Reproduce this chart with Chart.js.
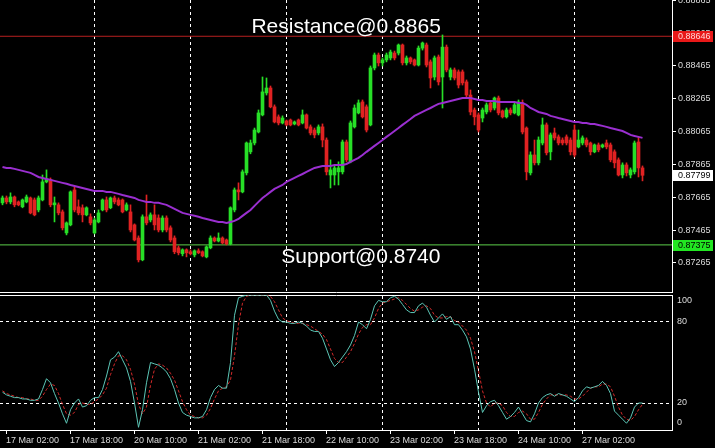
<!DOCTYPE html>
<html>
<head>
<meta charset="utf-8">
<script src="https://cdn.jsdelivr.net/npm/chart.js@4.4.0/dist/chart.umd.min.js"></script>
<style>
  html, body { margin: 0; padding: 0; background: #000; }
  canvas { display: block; }
</style>
</head>
<body>
<canvas id="chart_price" width="715" height="293"></canvas>
<canvas id="chart_stoch" width="715" height="155"></canvas>
<script>
/* ---------------- data (hourly bars, 17 Mar 02:00 -> 27 Mar 18:00) ---------------- */

const timeLabels = ["17 Mar 02:00", "17 Mar 18:00", "20 Mar 10:00", "21 Mar 02:00", "21 Mar 18:00",
  "22 Mar 10:00", "23 Mar 02:00", "23 Mar 18:00", "24 Mar 10:00", "27 Mar 02:00"];

const priceTicks = [0.87265, 0.87465, 0.87665, 0.87865, 0.88065, 0.88265, 0.88465, 0.88665, 0.88865];
const stochTicks = [0, 20, 80, 100];

const open = [
  0.87631,0.87661,0.87637,0.87667,0.87637,0.87607,0.87637,0.87661,0.87649,0.87588,
  0.87649,0.87759,0.87771,0.87619,0.87619,0.87576,0.87448,0.87497,0.87710,0.87607,
  0.87601,0.87558,0.87546,0.87448,0.87515,0.87588,0.87649,0.87601,0.87661,0.87649,
  0.87649,0.87588,0.87576,0.87497,0.87417,0.87284,0.87546,0.87527,0.87558,0.87539,
  0.87466,0.87539,0.87479,0.87417,0.87357,0.87321,0.87345,0.87333,0.87314,0.87339,
  0.87333,0.87302,0.87357,0.87417,0.87399,0.87417,0.87405,0.87381,0.87588,0.87710,
  0.87698,0.87814,0.87942,0.87996,0.88063,0.88167,0.88301,0.88331,0.88216,0.88155,
  0.88118,0.88130,0.88136,0.88112,0.88136,0.88118,0.88167,0.88094,0.88075,0.88057,
  0.88094,0.88014,0.87801,0.87801,0.87820,0.87820,0.88002,0.87881,0.88094,0.88179,
  0.88246,0.88216,0.88106,0.88453,0.88532,0.88484,0.88502,0.88514,0.88544,0.88544,
  0.88593,0.88484,0.88514,0.88502,0.88471,0.88574,0.88593,0.88490,0.88398,0.88520,
  0.88398,0.88580,0.88398,0.88441,0.88429,0.88429,0.88368,0.88288,0.88197,0.88167,
  0.88148,0.88185,0.88240,0.88209,0.88270,0.88191,0.88155,0.88197,0.88179,0.88167,
  0.88240,0.88087,0.87814,0.87923,0.87875,0.87996,0.88106,0.87942,0.88057,0.88033,
  0.88014,0.88033,0.88014,0.88075,0.87972,0.87996,0.88014,0.87996,0.87942,0.87984,
  0.87972,0.87996,0.87984,0.87942,0.87893,0.87801,0.87862,0.87801,0.87820,0.88002,
  0.87844
];
const high = [
  0.87673,0.87673,0.87692,0.87673,0.87643,0.87655,0.87679,0.87667,0.87661,0.87673,
  0.87801,0.87832,0.87783,0.87667,0.87631,0.87588,0.87515,0.87704,0.87728,0.87649,
  0.87619,0.87607,0.87564,0.87539,0.87588,0.87655,0.87667,0.87667,0.87673,0.87661,
  0.87655,0.87631,0.87619,0.87503,0.87430,0.87558,0.87679,0.87570,0.87619,0.87558,
  0.87552,0.87552,0.87491,0.87430,0.87369,0.87351,0.87351,0.87345,0.87345,0.87351,
  0.87339,0.87369,0.87430,0.87424,0.87448,0.87424,0.87411,0.87607,0.87722,0.87753,
  0.87832,0.88002,0.88014,0.88087,0.88197,0.88398,0.88392,0.88343,0.88228,0.88167,
  0.88161,0.88136,0.88142,0.88130,0.88142,0.88197,0.88173,0.88106,0.88087,0.88106,
  0.88112,0.88027,0.87893,0.87862,0.87881,0.88014,0.88014,0.88130,0.88228,0.88258,
  0.88258,0.88228,0.88465,0.88544,0.88544,0.88514,0.88544,0.88562,0.88556,0.88599,
  0.88599,0.88526,0.88520,0.88508,0.88587,0.88611,0.88605,0.88502,0.88526,0.88532,
  0.88654,0.88593,0.88453,0.88453,0.88441,0.88441,0.88380,0.88319,0.88209,0.88179,
  0.88209,0.88240,0.88252,0.88276,0.88282,0.88197,0.88209,0.88209,0.88240,0.88258,
  0.88258,0.88094,0.87942,0.88014,0.88033,0.88148,0.88118,0.88057,0.88087,0.88045,
  0.88027,0.88045,0.88027,0.88106,0.88075,0.88039,0.88027,0.88002,0.87990,0.87996,
  0.87990,0.88014,0.87996,0.87954,0.87905,0.87875,0.87875,0.87844,0.88008,0.88033,
  0.87856
];
const low = [
  0.87619,0.87625,0.87625,0.87607,0.87613,0.87601,0.87631,0.87564,0.87552,0.87576,
  0.87643,0.87753,0.87607,0.87515,0.87558,0.87466,0.87436,0.87491,0.87576,0.87558,
  0.87515,0.87552,0.87497,0.87442,0.87509,0.87582,0.87576,0.87595,0.87625,0.87613,
  0.87570,0.87582,0.87454,0.87399,0.87271,0.87278,0.87497,0.87515,0.87466,0.87454,
  0.87454,0.87454,0.87393,0.87321,0.87314,0.87308,0.87302,0.87314,0.87302,0.87321,
  0.87302,0.87296,0.87351,0.87393,0.87393,0.87381,0.87375,0.87375,0.87576,0.87649,
  0.87692,0.87801,0.87930,0.87984,0.88057,0.88161,0.88288,0.88210,0.88118,0.88106,
  0.88112,0.88100,0.88100,0.88106,0.88100,0.88112,0.88081,0.88045,0.88027,0.88045,
  0.87972,0.87801,0.87722,0.87740,0.87740,0.87807,0.87881,0.87875,0.88087,0.88173,
  0.88148,0.88063,0.88100,0.88441,0.88465,0.88465,0.88490,0.88502,0.88502,0.88532,
  0.88471,0.88471,0.88478,0.88465,0.88465,0.88562,0.88459,0.88331,0.88380,0.88349,
  0.88209,0.88429,0.88380,0.88380,0.88331,0.88349,0.88270,0.88167,0.88106,0.88063,
  0.88124,0.88173,0.88185,0.88197,0.88167,0.88148,0.88148,0.88167,0.88173,0.88161,
  0.88051,0.87771,0.87801,0.87862,0.87862,0.87984,0.87923,0.87893,0.88014,0.87984,
  0.87984,0.87984,0.87923,0.87911,0.87966,0.87984,0.87972,0.87923,0.87936,0.87942,
  0.87966,0.87960,0.87881,0.87844,0.87795,0.87783,0.87795,0.87783,0.87807,0.87789,
  0.87765
];
const close = [
  0.87661,0.87637,0.87667,0.87619,0.87619,0.87649,0.87667,0.87570,0.87558,0.87661,
  0.87759,0.87777,0.87619,0.87631,0.87570,0.87479,0.87509,0.87698,0.87588,0.87570,
  0.87558,0.87601,0.87509,0.87527,0.87570,0.87649,0.87588,0.87661,0.87637,0.87619,
  0.87576,0.87619,0.87466,0.87405,0.87284,0.87546,0.87509,0.87558,0.87497,0.87466,
  0.87539,0.87466,0.87405,0.87333,0.87327,0.87345,0.87327,0.87321,0.87339,0.87327,
  0.87308,0.87363,0.87417,0.87399,0.87417,0.87387,0.87381,0.87601,0.87710,0.87698,
  0.87820,0.87996,0.87996,0.88075,0.88179,0.88307,0.88331,0.88216,0.88124,0.88118,
  0.88148,0.88106,0.88106,0.88124,0.88106,0.88167,0.88087,0.88057,0.88045,0.88094,
  0.88014,0.87820,0.87832,0.87844,0.87844,0.88002,0.87893,0.88118,0.88209,0.88240,
  0.88155,0.88075,0.88453,0.88532,0.88484,0.88502,0.88532,0.88550,0.88514,0.88593,
  0.88484,0.88514,0.88490,0.88471,0.88574,0.88605,0.88471,0.88392,0.88514,0.88368,
  0.88580,0.88441,0.88441,0.88392,0.88349,0.88362,0.88288,0.88185,0.88155,0.88075,
  0.88197,0.88228,0.88197,0.88270,0.88179,0.88155,0.88197,0.88179,0.88228,0.88246,
  0.88063,0.87820,0.87923,0.87875,0.88014,0.88106,0.87936,0.88045,0.88027,0.87996,
  0.87996,0.87996,0.87942,0.87923,0.88014,0.88027,0.87984,0.87942,0.87984,0.87954,
  0.87984,0.87972,0.87893,0.87875,0.87801,0.87862,0.87814,0.87832,0.87996,0.87844,
  0.87799
];

// moving average (purple line)
const ma = [
  0.87850,0.87844,0.87844,0.87838,0.87832,0.87826,0.87820,0.87814,0.87801,0.87789,
  0.87783,0.87777,0.87771,0.87765,0.87759,0.87753,0.87747,0.87740,0.87734,0.87728,
  0.87722,0.87716,0.87710,0.87704,0.87704,0.87704,0.87698,0.87698,0.87692,0.87686,
  0.87679,0.87673,0.87667,0.87661,0.87649,0.87643,0.87637,0.87637,0.87631,0.87631,
  0.87625,0.87619,0.87607,0.87595,0.87582,0.87570,0.87564,0.87558,0.87552,0.87546,
  0.87539,0.87533,0.87527,0.87521,0.87515,0.87515,0.87509,0.87515,0.87521,0.87533,
  0.87552,0.87570,0.87588,0.87613,0.87637,0.87661,0.87679,0.87698,0.87716,0.87728,
  0.87740,0.87759,0.87771,0.87783,0.87795,0.87807,0.87820,0.87832,0.87844,0.87850,
  0.87856,0.87856,0.87856,0.87862,0.87862,0.87862,0.87868,0.87881,0.87893,0.87905,
  0.87923,0.87942,0.87960,0.87978,0.87996,0.88014,0.88033,0.88051,0.88069,0.88087,
  0.88106,0.88124,0.88142,0.88161,0.88173,0.88185,0.88197,0.88209,0.88222,0.88234,
  0.88240,0.88246,0.88252,0.88258,0.88264,0.88270,0.88270,0.88270,0.88264,0.88258,
  0.88258,0.88252,0.88252,0.88252,0.88246,0.88246,0.88246,0.88246,0.88246,0.88240,
  0.88240,0.88228,0.88209,0.88197,0.88185,0.88179,0.88173,0.88161,0.88155,0.88148,
  0.88142,0.88136,0.88130,0.88124,0.88124,0.88118,0.88118,0.88112,0.88112,0.88106,
  0.88100,0.88094,0.88087,0.88081,0.88075,0.88069,0.88057,0.88045,0.88039,0.88033,
  0.88027
];

// stochastic oscillator
const stochMain = [
  28,26,25,24,24,23,23,22,22,23, 30,38,35,27,20,12,5,15,20,23,
  17,18,22,24,24,30,40,52,54,58, 52,46,36,20,2,15,35,50,49,48,
  46,43,38,30,20,13,11,10,9,9, 10,15,24,30,33,31,31,50,85,98,
  99,100,100,100,100,100,100,96,88,82, 80,80,79,79,80,79,77,74,73,73,
  68,60,52,47,50,54,58,63,70,80, 78,75,82,92,96,95,95,98,99,97,
  93,89,87,87,92,94,91,85,80,83, 86,82,84,78,78,74,69,60,45,28,
  13,18,21,22,18,13,8,10,13,17, 12,7,6,12,20,24,26,27,25,27,
  26,25,23,21,24,29,32,31,32,33, 36,33,27,14,11,8,5,9,17,20,
  20
];
const stochSignal = [
  29,27,26,25,24,24,23,23,22,22, 25,30,34,33,27,19,12,11,13,19,
  20,19,19,21,23,26,31,41,49,55, 55,52,45,34,19,12,17,33,45,49,
  48,46,42,37,29,21,15,11,10,9, 9,11,16,23,29,31,32,37,55,78,
  94,99,100,100,100,100,100,99,95,89, 83,81,80,79,79,79,78,77,75,73,
  71,67,60,53,50,50,54,58,64,71, 76,78,78,83,90,94,95,96,97,98,
  96,93,90,88,89,91,92,90,85,83, 83,84,84,81,80,77,74,68,58,44,
  29,20,17,20,20,18,13,10,10,13, 14,12,8,8,13,19,23,26,26,26,
  26,26,25,23,23,25,28,31,32,32, 34,34,32,25,17,11,8,7,10,15,
  19
];

const resistance = 0.88646;
const support = 0.87375;
const lastPrice = 0.87799;
const notes = [
  { text: "Resistance@0.8865", bar: 85.9, price: 0.88663 },
  { text: "Support@0.8740", bar: 89.6, price: 0.87264 }
];

/* ---------------- chart setup ---------------- */

const X_MIN = -0.625, X_MAX = 167.375;   // 4 px per bar on a 672 px plot
const gridBars = [23, 47, 71, 95, 119, 143];
const labelBars = [0, 16, 32, 48, 64, 80, 96, 112, 128, 144];
const UP = "#27df27", DOWN = "#e02222";
const FONT = "'Liberation Sans', Arial, sans-serif";
const AXIS_TXT = "#dcdcdc";

Chart.defaults.font.family = FONT;
Chart.defaults.font.size = 9;

function noPad(s) {
  s.paddingTop = 0; s.paddingBottom = 0; s.paddingLeft = 0; s.paddingRight = 0;
}

let bodies = [], wicks = [], colors = [];
for (let i = 0; i < open.length; i++) {
  bodies.push({ x: i, y: [open[i], close[i]] });
  wicks.push({ x: i, y: [low[i], high[i]] });
  colors.push(close[i] >= open[i] ? UP : DOWN);
}

const priceBoxes = [
  { price: resistance, bg: "#e81818", fg: "#ffd6d6" },
  { price: support, bg: "#22e622", fg: "#000000" },
  { price: lastPrice, bg: "#ffffff", fg: "#000000" }
];

const priceExtras = {
  id: "priceExtras",
  afterDraw(chart) {
    const ctx = chart.ctx, xs = chart.scales.x, ys = chart.scales.y;
    ctx.save();
    ctx.font = "9px " + FONT;
    ctx.textBaseline = "middle";
    ctx.textAlign = "left";
    priceBoxes.forEach(b => {
      const y = Math.round(ys.getPixelForValue(b.price));
      ctx.fillStyle = b.bg;
      ctx.fillRect(ys.left + 1, y - 5, 40, 11);
      ctx.fillStyle = b.fg;
      ctx.fillText(b.price.toFixed(5), ys.left + 6, y + 0.5);
    });
    ctx.font = "21px " + FONT;
    ctx.fillStyle = "#ffffff";
    ctx.textAlign = "center";
    ctx.textBaseline = "alphabetic";
    notes.forEach(n => ctx.fillText(n.text, xs.getPixelForValue(n.bar), ys.getPixelForValue(n.price)));
    ctx.restore();
  }
};

const ctp = document.getElementById("chart_price").getContext("2d");
let chart_price = new Chart(ctp, {
  type: "bar",
  data: {
    datasets: [
      {
        type: "line",
        data: ma.map((v, i) => ({ x: i, y: v })),
        borderColor: "#9a2fd0",
        borderWidth: 2,
        pointRadius: 0,
        order: 1
      },
      {
        type: "line",
        data: [{ x: X_MIN, y: resistance }, { x: X_MAX, y: resistance }],
        borderColor: "#b82020",
        borderWidth: 1,
        pointRadius: 0,
        order: 5
      },
      {
        type: "line",
        data: [{ x: X_MIN, y: support }, { x: X_MAX, y: support }],
        borderColor: "#5ccf4a",
        borderWidth: 1,
        pointRadius: 0,
        order: 5
      },
      {
        data: bodies,
        backgroundColor: colors,
        barThickness: 3,
        minBarLength: 1,
        grouped: false,
        order: 2
      },
      {
        data: wicks,
        backgroundColor: colors,
        barThickness: 1,
        grouped: false,
        order: 3
      }
    ]
  },
  options: {
    responsive: false,
    animation: false,
    devicePixelRatio: 1,
    events: [],
    layout: { padding: 0 },
    plugins: { legend: { display: false }, tooltip: { enabled: false } },
    scales: {
      x: {
        type: "linear",
        min: X_MIN,
        max: X_MAX,
        offset: false,
        afterBuildTicks: s => { s.ticks = gridBars.map(v => ({ value: v })); },
        afterFit: s => { s.height = 1; noPad(s); },
        ticks: { display: false },
        grid: { color: "#ffffff", lineWidth: 1, drawTicks: false, offset: false },
        border: { display: true, color: "#ffffff", dash: [3, 3] }
      },
      y: {
        position: "right",
        min: 0.87088,
        max: 0.88867,
        afterBuildTicks: s => { s.ticks = priceTicks.map(v => ({ value: v })); },
        afterFit: s => { s.width = 43; noPad(s); },
        ticks: {
          color: AXIS_TXT,
          padding: 2,
          callback: v => v.toFixed(5)
        },
        grid: { drawOnChartArea: false, drawTicks: true, tickLength: 4, color: "#ffffff" },
        border: { display: true, color: "#ffffff" }
      }
    }
  },
  plugins: [priceExtras]
});

/* ---------------- stochastic panel ---------------- */

const stochLabels = {
  id: "stochLabels",
  afterDraw(chart) {
    const ctx = chart.ctx, ys = chart.scales.y;
    ctx.save();
    ctx.font = "9px " + FONT;
    ctx.fillStyle = AXIS_TXT;
    ctx.textAlign = "left";
    ctx.textBaseline = "middle";
    stochTicks.forEach(v => {
      let y = ys.getPixelForValue(v);
      y = Math.min(Math.max(y, ys.top + 6), ys.bottom - 7);
      ctx.fillText(String(v), ys.left + 5, y);
    });
    ctx.restore();
  }
};

const cts = document.getElementById("chart_stoch").getContext("2d");
let chart_stoch = new Chart(cts, {
  type: "line",
  data: {
    datasets: [
      {
        data: stochMain.map((v, i) => ({ x: i, y: v })),
        borderColor: "#5cc6b6",
        borderWidth: 1,
        pointRadius: 0
      },
      {
        data: stochSignal.map((v, i) => ({ x: i, y: v })),
        borderColor: "#d42a2a",
        borderWidth: 1,
        borderDash: [3, 2],
        pointRadius: 0
      }
    ]
  },
  options: {
    responsive: false,
    animation: false,
    devicePixelRatio: 1,
    events: [],
    layout: { padding: { top: 2 } },
    plugins: { legend: { display: false }, tooltip: { enabled: false } },
    scales: {
      x: {
        type: "linear",
        min: X_MIN,
        max: X_MAX,
        afterBuildTicks: s => { s.ticks = labelBars.map(v => ({ value: v + 0.875 })); },
        afterFit: s => { s.height = 18; noPad(s); },
        ticks: {
          color: AXIS_TXT,
          align: "start",
          padding: 1,
          maxRotation: 0,
          autoSkip: false,
          callback: (v, idx) => timeLabels[idx]
        },
        grid: { drawOnChartArea: false, drawTicks: true, tickLength: 4, color: "#ffffff" },
        border: { display: true, color: "#ffffff" }
      },
      xg: {
        type: "linear",
        position: "top",
        min: X_MIN,
        max: X_MAX,
        afterBuildTicks: s => { s.ticks = gridBars.map(v => ({ value: v })); },
        afterFit: s => { s.height = 0; noPad(s); },
        ticks: { display: false },
        grid: { color: "#ffffff", drawTicks: false, offset: false },
        border: { display: true, color: "#ffffff", dash: [3, 3] }
      },
      y: {
        position: "right",
        min: 0,
        max: 100,
        afterBuildTicks: s => { s.ticks = stochTicks.map(v => ({ value: v })); },
        afterFit: s => { s.width = 43; noPad(s); },
        ticks: { display: false },
        grid: {
          drawTicks: false,
          color: c => (c.tick && (c.tick.value === 20 || c.tick.value === 80)) ? "#ffffff" : "rgba(0,0,0,0)"
        },
        border: { display: true, color: "#ffffff", dash: [3, 3] }
      }
    }
  },
  plugins: [stochLabels]
});
</script>
</body>
</html>
